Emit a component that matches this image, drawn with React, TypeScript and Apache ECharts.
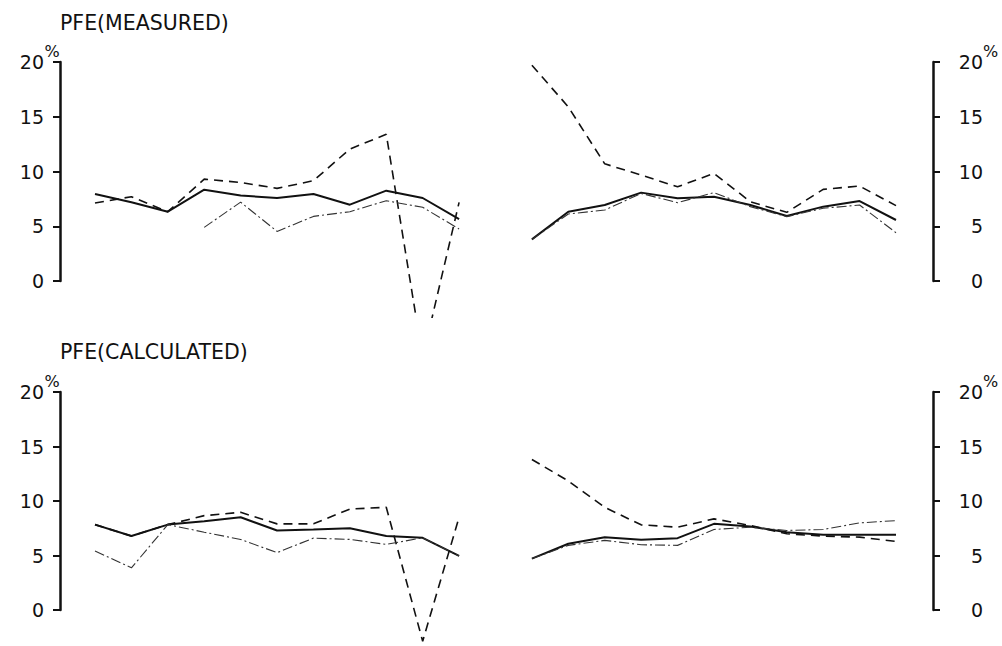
import React, { useEffect, useRef } from "react";
import * as echarts from "echarts";

// Station categories (no labels visible in the figure): left half, gap, right half
const leftStations = ["1", "2", "3", "4", "5", "6", "7", "8", "9", "10", "11"];
const rightStations = ["1", "2", "3", "4", "5", "6", "7", "8", "9", "10", "11"];

// Y-axis tick values (percent)
const yTicks = [0, 5, 10, 15, 20];

// PFE (measured) – left half
const measLeftSolid = [7.95, 7.2, 6.33, 8.34, 7.8, 7.58, 7.95, 6.97, 8.25, 7.58, 5.66];
const measLeftDashed = [7.12, 7.7, 6.33, 9.3, 9.0, 8.46, 9.16, 12.05, 13.4, -7.0, 7.18];
const measLeftDashDot = [null, null, null, 4.9, 7.2, 4.53, 5.9, 6.33, 7.33, 6.73, 4.75];
// PFE (measured) – right half
const measRightSolid = [3.8, 6.33, 6.94, 8.07, 7.55, 7.7, 6.94, 5.94, 6.79, 7.3, 5.57];
const measRightDashed = [19.7, 15.9, 10.7, 9.68, 8.6, 9.83, 7.24, 6.27, 8.37, 8.67, 6.88];
const measRightDashDot = [3.8, 6.12, 6.48, 8.0, 7.15, 8.07, 6.79, 5.88, 6.64, 6.94, 4.41];

// PFE (calculated) – left half
const calcLeftSolid = [7.73, 6.67, 7.73, 8.04, 8.41, 7.19, 7.28, 7.4, 6.67, 6.51, 4.83];
const calcLeftDashed = [7.73, 6.67, 7.73, 8.56, 8.87, 7.8, 7.8, 9.17, 9.33, -3.06, 8.41];
const calcLeftDashDot = [5.29, 3.73, 7.73, 7.03, 6.36, 5.14, 6.48, 6.36, 5.9, 6.51, 4.83];
// PFE (calculated) – right half
const calcRightSolid = [4.59, 5.96, 6.57, 6.33, 6.48, 7.8, 7.55, 7.03, 6.79, 6.79, 6.79];
const calcRightDashed = [13.76, 11.77, 9.33, 7.71, 7.49, 8.26, 7.65, 6.88, 6.67, 6.57, 6.18];
const calcRightDashDot = [4.59, 5.81, 6.27, 5.87, 5.81, 7.28, 7.49, 7.19, 7.28, 7.89, 8.1];

const FONT = "DejaVu Sans";
const INK = "#111";

const categories = [
  ...leftStations.map((s) => "L" + s),
  "",
  ...rightStations.map((s) => "R" + s),
];
const join = (l: (number | null)[], r: (number | null)[]) => [...l, null, ...r];

function frameY(gridIndex: number, position: "left" | "right") {
  const isLeft = position === "left";
  return {
    type: "value",
    gridIndex,
    position,
    min: yTicks[0],
    max: yTicks[yTicks.length - 1],
    interval: yTicks[1] - yTicks[0],
    axisLine: { show: true, onZero: false, lineStyle: { color: INK, width: 2.5 } },
    axisTick: { show: true, length: 7, lineStyle: { color: INK, width: 2 } },
    splitLine: { show: false },
    axisLabel: {
      show: true,
      color: INK,
      fontFamily: FONT,
      fontSize: 19,
      margin: isLeft ? 16 : 50,
      align: "right",
    },
    name: "%",
    nameLocation: "end",
    nameGap: 3,
    nameMoveOverlap: false,
    nameTextStyle: {
      color: INK,
      fontFamily: FONT,
      fontSize: 16,
      align: isLeft ? "center" : "left",
      padding: isLeft ? [0, 16, 0, 0] : [0, 0, 0, 50],
    },
  };
}

function dataY(gridIndex: number, min: number) {
  return { type: "value", gridIndex, min, max: 20, show: false, splitLine: { show: false } };
}

function lineSeries(name: string, kind: "solid" | "dashed" | "dashdot", xi: number, yi: number, data: (number | null)[]) {
  const style =
    kind === "solid"
      ? { color: INK, width: 2, type: "solid" }
      : kind === "dashed"
      ? { color: INK, width: 1.6, type: [9, 6] }
      : { color: "#333", width: 1.1, type: [10, 3, 2, 3] };
  return {
    type: "line",
    name,
    xAxisIndex: xi,
    yAxisIndex: yi,
    data,
    symbol: "none",
    connectNulls: false,
    silent: true,
    lineStyle: style,
  };
}

export default function App() {
  const ref = useRef<HTMLDivElement>(null);
  useEffect(() => {
    if (!ref.current) return;
    const chart = echarts.init(ref.current, undefined, { renderer: "svg" });
    const topY0 = 281, topY20 = 62;
    const botY0 = 610, botY20 = 392;
    const topScale = (topY0 - topY20) / 20;
    const botScale = (botY0 - botY20) / 20;
    const topMin = -3.3, botMin = -3.5;
    chart.setOption({
      animation: false,
      backgroundColor: "#fff",
      title: [
        { text: "PFE(MEASURED)", left: 60, top: 12, padding: 0, textStyle: { fontFamily: FONT, fontSize: 20.5, fontWeight: "normal", color: INK } },
        { text: "PFE(CALCULATED)", left: 60, top: 341, padding: 0, textStyle: { fontFamily: FONT, fontSize: 20.5, fontWeight: "normal", color: INK } },
      ],
      grid: [
        { left: 60, right: 1002 - 933, top: topY20, height: topY0 - topY20 },
        { left: 95, right: 106, top: topY20, height: topScale * (20 - topMin) },
        { left: 60, right: 1002 - 933, top: botY20, height: botY0 - botY20 },
        { left: 95, right: 106, top: botY20, height: botScale * (20 - botMin) },
      ],
      xAxis: [
        { type: "value", gridIndex: 0, min: 0, max: 1, show: false },
        { type: "category", gridIndex: 1, data: categories, boundaryGap: false, show: false },
        { type: "value", gridIndex: 2, min: 0, max: 1, show: false },
        { type: "category", gridIndex: 3, data: categories, boundaryGap: false, show: false },
      ],
      yAxis: [
        frameY(0, "left"),
        frameY(0, "right"),
        dataY(1, topMin),
        frameY(2, "left"),
        frameY(2, "right"),
        dataY(3, botMin),
      ],
      series: [
        lineSeries("Measured solid", "solid", 1, 2, join(measLeftSolid, measRightSolid)),
        lineSeries("Measured dashed", "dashed", 1, 2, join(measLeftDashed, measRightDashed)),
        lineSeries("Measured dash-dot", "dashdot", 1, 2, join(measLeftDashDot, measRightDashDot)),
        lineSeries("Calculated solid", "solid", 3, 5, join(calcLeftSolid, calcRightSolid)),
        lineSeries("Calculated dashed", "dashed", 3, 5, join(calcLeftDashed, calcRightDashed)),
        lineSeries("Calculated dash-dot", "dashdot", 3, 5, join(calcLeftDashDot, calcRightDashDot)),
      ],
    });
    return () => chart.dispose();
  }, []);
  return <div ref={ref} style={{ position: "absolute", left: 0, top: 0, width: 1002, height: 646 }} />;
}
